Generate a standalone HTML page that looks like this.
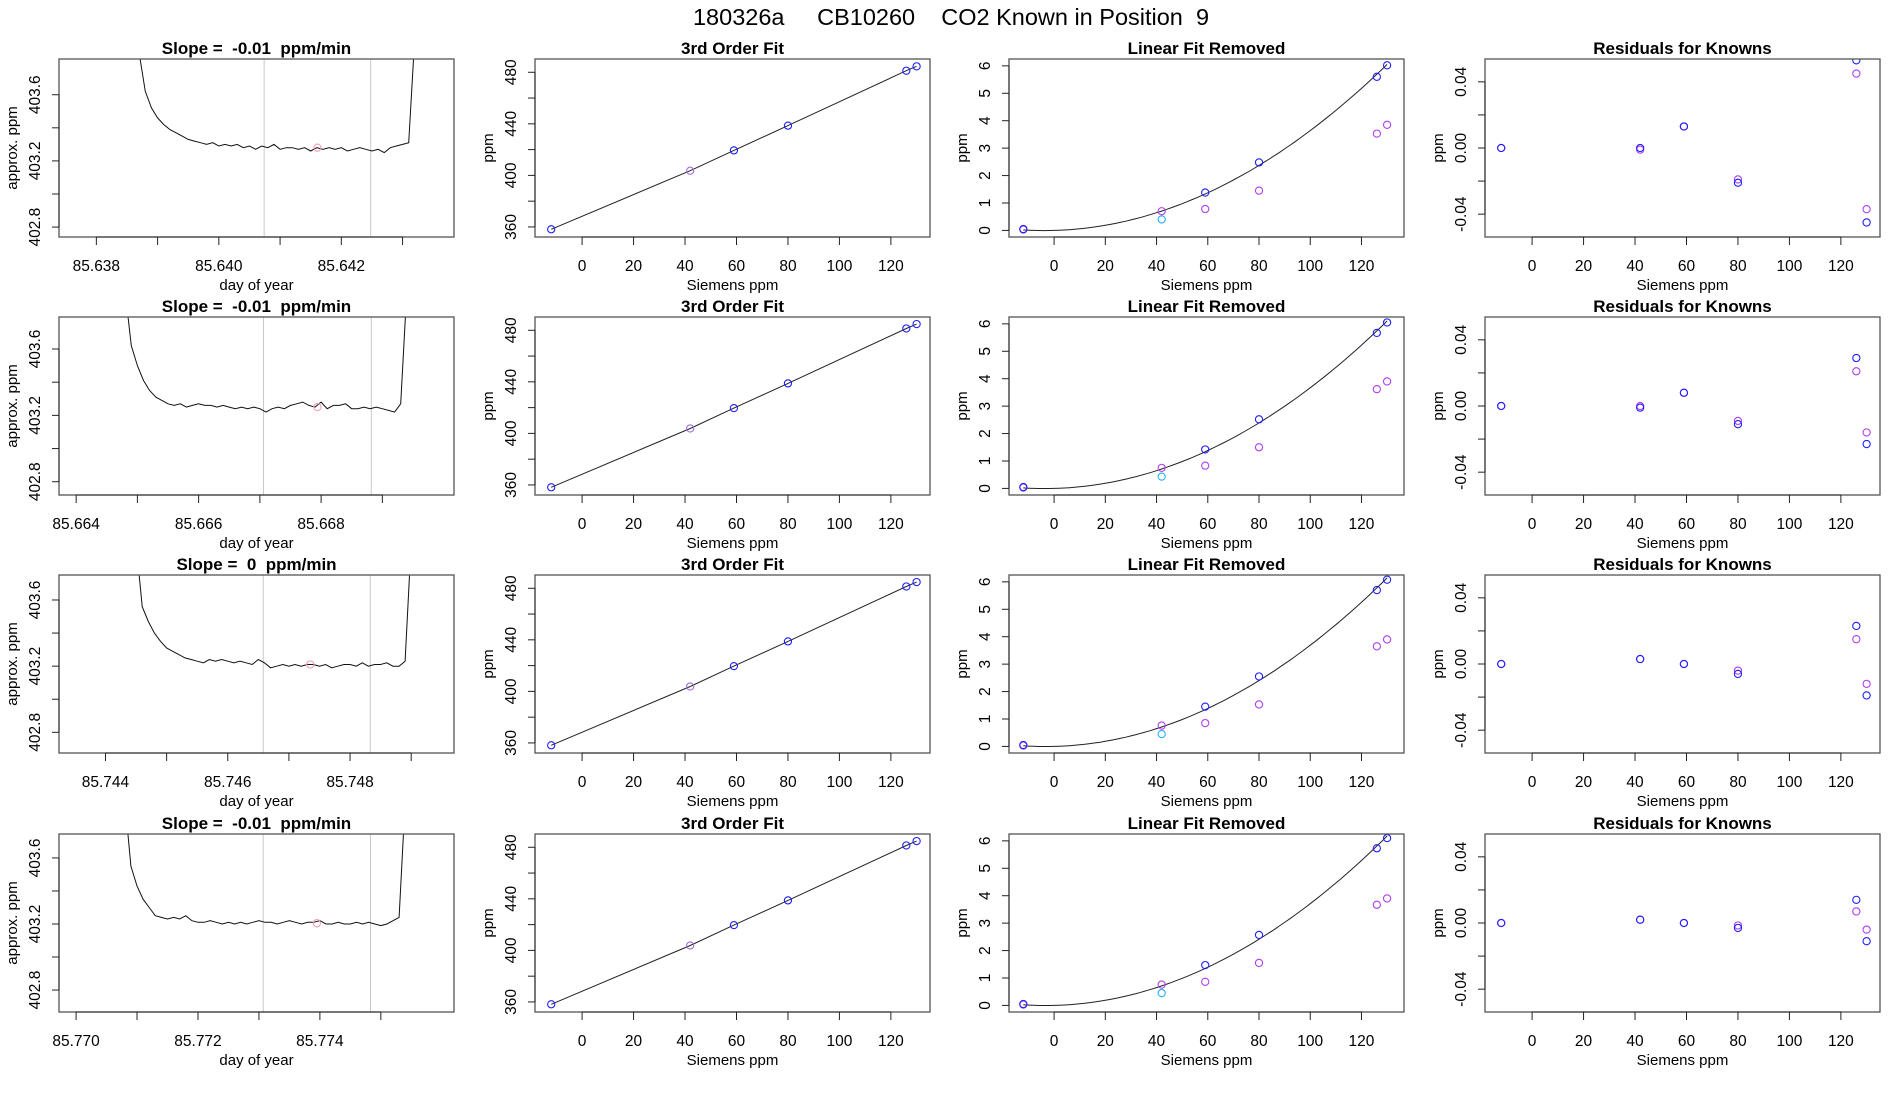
<!DOCTYPE html>
<html><head><meta charset="utf-8"><style>
html,body{margin:0;padding:0;background:#fff;}
svg{display:block;font-family:"Liberation Sans",sans-serif;}
svg text{white-space:pre;}
</style></head><body>
<svg id="chart" width="1900" height="1100" viewBox="0 0 1900 1100" xmlns="http://www.w3.org/2000/svg">
<text x="951" y="25" text-anchor="middle" font-size="23.5" style="white-space:pre">180326a     CB10260    CO2 Known in Position  9</text>
</svg>
<script>
// ---- data ----
const rowTitles = ["Slope =  -0.01  ppm/min","Slope =  -0.01  ppm/min","Slope =  0  ppm/min","Slope =  -0.01  ppm/min"];
const traceStart = [85.6387, 85.6648, 85.7445, 85.7708];
const traceStep = 0.0001;
const trace1 = [403.85,403.62,403.52,403.46,403.42,403.39,403.37,403.35,403.33,403.32,403.31,403.30,403.31,403.29,403.30,403.29,403.30,403.28,403.29,403.27,403.29,403.28,403.30,403.27,403.28,403.28,403.27,403.28,403.26,403.28,403.27,403.28,403.27,403.28,403.26,403.27,403.28,403.27,403.26,403.27,403.25,403.28,403.29,403.30,403.31,403.95];
const trace2 = [403.95,403.62,403.50,403.41,403.35,403.31,403.29,403.27,403.26,403.27,403.25,403.26,403.27,403.26,403.26,403.25,403.26,403.25,403.24,403.25,403.24,403.25,403.24,403.22,403.24,403.25,403.24,403.26,403.27,403.28,403.26,403.25,403.28,403.24,403.26,403.26,403.27,403.24,403.24,403.25,403.24,403.25,403.24,403.23,403.22,403.27,403.95];
const trace3 = [403.95,403.56,403.47,403.40,403.35,403.31,403.29,403.27,403.25,403.24,403.23,403.22,403.24,403.23,403.24,403.23,403.22,403.23,403.22,403.21,403.24,403.22,403.19,403.20,403.21,403.20,403.21,403.20,403.21,403.21,403.20,403.21,403.19,403.20,403.21,403.21,403.20,403.22,403.20,403.21,403.21,403.22,403.20,403.20,403.23,403.95];
const trace4 = [403.95,403.55,403.43,403.35,403.30,403.25,403.24,403.23,403.24,403.23,403.25,403.22,403.21,403.21,403.22,403.21,403.20,403.21,403.20,403.21,403.20,403.21,403.22,403.21,403.21,403.20,403.21,403.22,403.21,403.20,403.21,403.21,403.22,403.20,403.20,403.21,403.20,403.20,403.21,403.20,403.21,403.20,403.19,403.20,403.22,403.24,403.95];
const traces = [trace1, trace2, trace3, trace4];
const markerT = [85.64161, 85.66794, 85.74735, 85.77395];
const markerV = [403.28, 403.25, 403.21, 403.205];
const windowStart = [85.64074, 85.66706, 85.74658, 85.77307];
const windowEnd = [85.64248, 85.66882, 85.74833, 85.77483];
const timeXlimMin = [85.63739, 85.66372, 85.74324, 85.76972];
const timeXlimMax = [85.64384, 85.67017, 85.74970, 85.77620];
const timeYlimMin = [402.74, 402.72, 402.675, 402.667];
const timeYlimMax = [403.816, 403.793, 403.751, 403.745];
const timeTickStart = [85.637, 85.663, 85.743, 85.769];
const ppmTicks = [402.8, 403.0, 403.2, 403.4, 403.6];
const ppmTickLabels = ["402.8", "", "403.2", "", "403.6"];

const siemensX = [-12, 42, 59, 80, 126, 130];
const fitPpm1 = [358.2, 403.6, 419.4, 438.6, 481.2, 484.6];
const fitPpm2 = [358.2, 403.8, 419.6, 438.8, 481.4, 484.8];
const fitPpm3 = [358.2, 403.8, 419.6, 438.8, 481.4, 484.8];
const fitPpm4 = [358.2, 403.8, 419.6, 438.8, 481.4, 484.8];
const fitPpm = [fitPpm1, fitPpm2, fitPpm3, fitPpm4];
const siemensTicks = [0, 20, 40, 60, 80, 100, 120];
const fitYTicks = [360, 380, 400, 420, 440, 460, 480];
const fitYTickLabels = ["360", "", "400", "", "440", "", "480"];

const nlBlueX = [-12, 59, 80, 126, 130];
const nlBlue = [[0.05,1.38,2.48,5.6,6.02],[0.05,1.42,2.52,5.67,6.05],[0.05,1.45,2.55,5.7,6.08],[0.05,1.47,2.57,5.73,6.1]];
const nlCyanX = [42];
const nlCyan = [[0.4],[0.43],[0.45],[0.45]];
const nlPurpleX = [-12, 42, 59, 80, 126, 130];
const nlPurple = [[0.03,0.7,0.78,1.45,3.53,3.85],[0.03,0.75,0.83,1.5,3.62,3.9],[0.03,0.76,0.85,1.53,3.65,3.9],[0.03,0.76,0.86,1.55,3.67,3.9]];
const nlCoef = [[0,0.0026,0.000338],[0,0.0025,0.000342],[0,0.0024,0.000345],[0,0.0024,0.000347]];
const nlTicks = [0, 1, 2, 3, 4, 5, 6];

const resX = [-12, 42, 59, 80, 126, 130];
const resBlue = [[0,0,0.013,-0.021,0.053,-0.045],[0,-0.001,0.008,-0.011,0.029,-0.023],[0,0.003,0,-0.006,0.023,-0.019],[0,0.002,0,-0.003,0.014,-0.011]];
const resPurple = [[0,-0.001,0.013,-0.019,0.045,-0.037],[0,0,0.008,-0.009,0.021,-0.016],[0,0.003,0,-0.004,0.015,-0.012],[0,0.002,0,-0.0015,0.007,-0.004]];
const resTicks = [-0.04, -0.02, 0, 0.02, 0.04];
const resTickLabels = ["-0.04", "", "0.00", "", "0.04"];

// ---- layout ----
const NS = "http://www.w3.org/2000/svg";
const svg = document.getElementById("chart");
const colLeft = [59, 535, 1009, 1485];
const rowTop = [59, 317, 575, 834];
const boxW = 395, boxH = 178;
const BLUE = "#2020ff", PURPLE = "#b040f0", CYAN = "#20b0ff", LAV = "#a070e0";

function mk(tag, attrs, parent) {
  const e = document.createElementNS(NS, tag);
  for (const k in attrs) e.setAttribute(k, attrs[k]);
  (parent || svg).appendChild(e);
  return e;
}
function txt(parent, x, y, s, size, opts) {
  const t = mk("text", {x: x, y: y, "font-size": size, "text-anchor": "middle", fill: "#000"}, parent);
  if (opts && opts.bold) t.setAttribute("font-weight", "bold");
  if (opts && opts.rot) t.setAttribute("transform", "rotate(-90 " + x + " " + y + ")");
  t.textContent = s;
  return t;
}

function panel(r, c, xmin, xmax, ymin, ymax, title, xlab, ylab) {
  const g = mk("g", {});
  const L = colLeft[c], T = rowTop[r];
  const sx = v => L + (v - xmin) / (xmax - xmin) * boxW;
  const sy = v => T + boxH - (v - ymin) / (ymax - ymin) * boxH;
  const clipId = "clip" + r + "_" + c;
  const cp = mk("clipPath", {id: clipId}, g);
  mk("rect", {x: L, y: T, width: boxW, height: boxH}, cp);
  const plot = mk("g", {"clip-path": "url(#" + clipId + ")"}, g);
  const box = mk("rect", {x: L, y: T, width: boxW, height: boxH, fill: "none", stroke: "#555", "stroke-width": 1.3}, g);
  
  
  const tt = txt(g, L + boxW / 2, T - 5, title, 17, {bold: true});
  
  
  const xl = txt(g, L + boxW / 2, T + boxH + 53, xlab, 15);
  
  
  const yl = txt(g, L - 42, T + boxH / 2, ylab, 15, {rot: true});
  
  
  return {g: g, plot: plot, sx: sx, sy: sy, L: L, T: T};
}
function xAxis(p, ticks, labels) {
  const B = p.T + boxH;
  const ax = mk("g", {}, p.g);
  
  
  mk("line", {x1: p.sx(ticks[0]), x2: p.sx(ticks[ticks.length - 1]), y1: B, y2: B, stroke: "#222", "stroke-width": 1}, ax);
  ticks.forEach((v, i) => {
    const x = p.sx(v);
    mk("line", {x1: x, x2: x, y1: B, y2: B + 8, stroke: "#222", "stroke-width": 1}, ax);
    if (labels[i]) {
      const t = txt(ax, x, B + 34, labels[i], 15.5);
      
      
    }
  });
}
function yAxis(p, ticks, labels) {
  const ax = mk("g", {}, p.g);
  
  
  mk("line", {x1: p.L, x2: p.L, y1: p.sy(ticks[0]), y2: p.sy(ticks[ticks.length - 1]), stroke: "#222", "stroke-width": 1}, ax);
  ticks.forEach((v, i) => {
    const y = p.sy(v);
    mk("line", {x1: p.L - 7, x2: p.L, y1: y, y2: y, stroke: "#222", "stroke-width": 1}, ax);
    if (labels[i]) {
      const t = txt(ax, p.L - 19, y, labels[i], 15.5, {rot: true});
      
      
    }
  });
}
function pt(p, x, y, color, name) {
  const c = mk("circle", {cx: p.sx(x), cy: p.sy(y), r: 3.6, fill: "none", stroke: color, "stroke-width": 1.1}, p.plot);
  
  
}

for (let r = 0; r < 4; r++) {
  // --- column 1: time trace ---
  const p1 = panel(r, 0, timeXlimMin[r], timeXlimMax[r], timeYlimMin[r], timeYlimMax[r], rowTitles[r], "day of year", "approx. ppm");
  [windowStart[r], windowEnd[r]].forEach(t => {
    const l = mk("line", {x1: p1.sx(t), x2: p1.sx(t), y1: p1.T, y2: p1.T + boxH, stroke: "#c8c8c8", "stroke-width": 1}, p1.plot);
    
    
  });
  const tr = traces[r];
  const d = tr.map((v, i) => (i ? "L" : "M") + p1.sx(traceStart[r] + i * traceStep).toFixed(1) + " " + p1.sy(v).toFixed(1)).join(" ");
  const path = mk("path", {d: d, fill: "none", stroke: "#111", "stroke-width": 1}, p1.plot);
  
  
  pt(p1, markerT[r], markerV[r], "#f4a0b0", "mean-marker");
  const tks = [], tls = [];
  for (let k = 0; k < 7; k++) {
    const v = +(timeTickStart[r] + k * 0.001).toFixed(3);
    if (v >= timeXlimMin[r] && v <= timeXlimMax[r]) {
      tks.push(v);
      const even = Math.round(v * 1000) % 2 === 0;
      tls.push(even ? v.toFixed(3) : "");
    }
  }
  xAxis(p1, tks, tls);
  yAxis(p1, ppmTicks, ppmTickLabels);

  // --- column 2: 3rd order fit ---
  const p2 = panel(r, 1, -18.3, 135.2, 352.2, 490.3, "3rd Order Fit", "Siemens ppm", "ppm");
  const fd = siemensX.map((x, i) => (i ? "L" : "M") + p2.sx(x).toFixed(1) + " " + p2.sy(fitPpm[r][i]).toFixed(1)).join(" ");
  const fl = mk("path", {d: fd, fill: "none", stroke: "#222", "stroke-width": 1}, p2.plot);
  
  
  siemensX.forEach((x, i) => pt(p2, x, fitPpm[r][i], x === 42 ? LAV : BLUE, "known-point"));
  xAxis(p2, siemensTicks, siemensTicks.map(String));
  yAxis(p2, fitYTicks, fitYTickLabels);

  // --- column 3: linear fit removed ---
  const p3 = panel(r, 2, -17.6, 136.6, -0.24, 6.25, "Linear Fit Removed", "Siemens ppm", "ppm");
  const cf = nlCoef[r];
  let cd = "";
  for (let k = 0; k <= 71; k++) {
    const x = -12 + k * 2;
    const y = cf[0] + cf[1] * x + cf[2] * x * x;
    cd += (k ? "L" : "M") + p3.sx(x).toFixed(1) + " " + p3.sy(y).toFixed(1) + " ";
  }
  const cl = mk("path", {d: cd, fill: "none", stroke: "#222", "stroke-width": 1}, p3.plot);
  
  
  nlPurpleX.forEach((x, i) => pt(p3, x, nlPurple[r][i], PURPLE, "purple-point"));
  nlCyanX.forEach((x, i) => pt(p3, x, nlCyan[r][i], CYAN, "cyan-point"));
  nlBlueX.forEach((x, i) => pt(p3, x, nlBlue[r][i], BLUE, "blue-point"));
  xAxis(p3, siemensTicks, siemensTicks.map(String));
  yAxis(p3, nlTicks, nlTicks.map(String));

  // --- column 4: residuals ---
  const p4 = panel(r, 3, -18.3, 135.2, -0.0538, 0.0538, "Residuals for Knowns", "Siemens ppm", "ppm");
  resX.forEach((x, i) => pt(p4, x, resPurple[r][i], PURPLE, "residual-purple"));
  resX.forEach((x, i) => pt(p4, x, resBlue[r][i], BLUE, "residual-blue"));
  xAxis(p4, siemensTicks, siemensTicks.map(String));
  yAxis(p4, resTicks, resTickLabels);
}
</script>
</body></html>
